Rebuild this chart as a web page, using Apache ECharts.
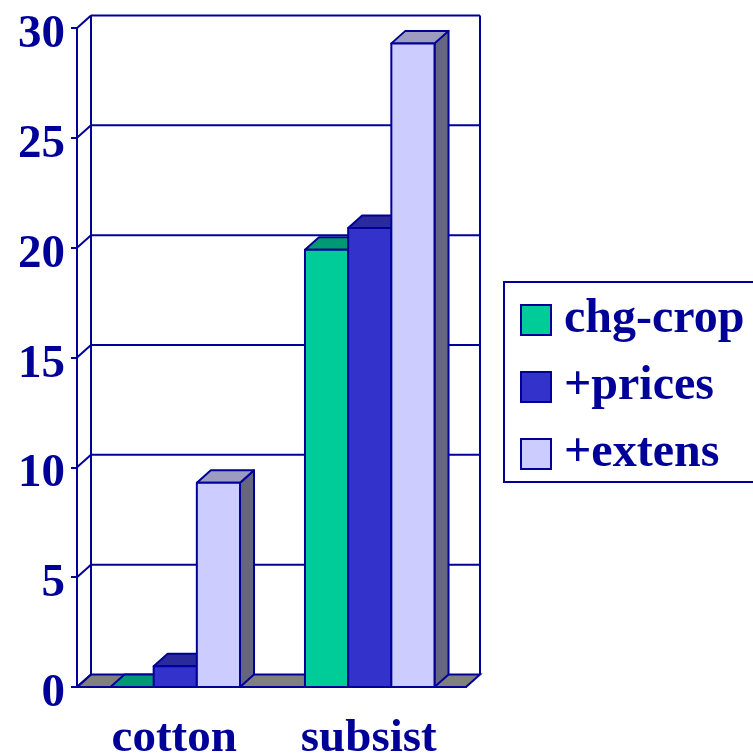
<!DOCTYPE html>
<html>
<head>
<meta charset="utf-8">
<script src="https://cdn.jsdelivr.net/npm/echarts@6/dist/echarts.min.js"></script>
<style>
  html, body { margin: 0; padding: 0; background: #fff; }
  #chart { width: 753px; height: 755px; }
</style>
</head>
<body>
<div id="chart"></div>
<script>
// data
const categories = ['cotton', 'subsist']
const seriesNames = ['chg-crop', '+prices', '+extens']
const chgCrop = [0, 19.9]
const prices = [0.95, 20.9]
const extens = [9.3, 29.3]
const yTicks = [0, 5, 10, 15, 20, 25, 30]

const NAVY = '#000099'
const FONT = "'Liberation Serif', 'Times New Roman', serif"
const DX = 14, DY = -12.5   // depth offset of the 3d look
const BAR_FRAC = 0.222      // share of a category taken by one bar

// front / top / side colours for each series
const faces = [
  ['#00CC99', '#009973', '#006b50'],
  ['#3333CC', '#2a2a9c', '#1f1f70'],
  ['#CCCCFF', '#9c9cc0', '#666680']
]

let myChart = echarts.init(document.getElementById('chart'))

// back wall, floor and grid lines
function renderWall(params, api) {
  const cs = params.coordSys
  const left = cs.x, right = cs.x + cs.width, bottom = cs.y + cs.height
  const line = { stroke: NAVY, lineWidth: 2 }
  const children = []
  children.push({
    type: 'polygon',
    shape: { points: [[left, bottom], [left + DX, bottom + DY], [right + DX, bottom + DY], [right, bottom]] },
    style: { fill: '#808080', stroke: NAVY, lineWidth: 2 }
  })
  yTicks.forEach(v => {
    const y = api.coord([0, v])[1]
    if (v > 0) {
      children.push({ type: 'line', shape: { x1: left + DX, y1: y + DY, x2: right + DX, y2: y + DY }, style: line })
    }
    children.push({ type: 'line', shape: { x1: left, y1: y, x2: left + DX, y2: y + DY }, style: line })
  })
  const yTop = api.coord([0, yTicks[yTicks.length - 1]])[1] + DY
  children.push({ type: 'line', shape: { x1: left + DX, y1: yTop, x2: left + DX, y2: bottom + DY }, style: line })
  children.push({ type: 'line', shape: { x1: right + DX, y1: yTop, x2: right + DX, y2: bottom + DY }, style: line })
  return { type: 'group', children }
}

function makeBarRenderer(k) {
  return function (params, api) {
    const cat = api.value(0)
    const base = api.coord([cat, 0])
    const top = api.coord([cat, api.value(1)])
    const bw = api.size([1, 0])[0] * BAR_FRAC
    const x0 = base[0] + (k - 1.5) * bw + 1
    const x1 = x0 + bw
    const yb = base[1], yt = top[1]
    const st = { stroke: NAVY, lineWidth: 2, lineJoin: 'round' }
    return {
      type: 'group',
      children: [
        { type: 'polygon', shape: { points: [[x1, yt], [x1 + DX, yt + DY], [x1 + DX, yb + DY], [x1, yb]] },
          style: Object.assign({ fill: faces[k][2] }, st) },
        { type: 'polygon', shape: { points: [[x0, yt], [x0 + DX, yt + DY], [x1 + DX, yt + DY], [x1, yt]] },
          style: Object.assign({ fill: faces[k][1] }, st) },
        { type: 'rect', shape: { x: x0, y: yt, width: bw, height: yb - yt },
          style: Object.assign({ fill: faces[k][0] }, st) }
      ]
    }
  }
}

const values = [chgCrop, prices, extens]
const barSeries = values.map((vals, k) => ({
  type: 'custom',
  name: seriesNames[k],
  renderItem: makeBarRenderer(k),
  encode: { x: 0, y: 1 },
  itemStyle: { color: faces[k][0], borderColor: NAVY, borderWidth: 2 },
  data: vals.map((v, i) => [i, v])
}))

const option = {
  animation: false,
  grid: { left: 77, top: 28, right: 287, bottom: 68, outerBoundsMode: 'none', containLabel: false },
  legend: {
    orient: 'vertical',
    left: 504,
    top: 282,
    padding: [14, 30, 4, 16],
    itemWidth: 30,
    itemHeight: 30,
    itemGap: 19,
    icon: 'rect',
    borderColor: NAVY,
    borderWidth: 2,
    data: seriesNames,
    textStyle: {
      fontFamily: FONT, fontWeight: 'bold', fontSize: 48, color: NAVY,
      lineHeight: 44, padding: [0, 0, 0, 8]
    }
  },
  xAxis: {
    type: 'category',
    data: categories,
    axisLine: { lineStyle: { color: NAVY, width: 2 } },
    axisTick: { length: 7, lineStyle: { color: NAVY, width: 2 } },
    axisLabel: { margin: 28, fontFamily: FONT, fontWeight: 'bold', fontSize: 47, color: NAVY }
  },
  yAxis: {
    type: 'value',
    min: 0,
    max: 30,
    interval: 5,
    axisLine: { show: true, lineStyle: { color: NAVY, width: 2 } },
    axisTick: { show: true, length: 6, lineStyle: { color: NAVY, width: 2 } },
    splitLine: { show: false },
    axisLabel: {
      margin: 12, verticalAlign: 'top', lineHeight: 14,
      fontFamily: FONT, fontWeight: 'bold', fontSize: 47, color: NAVY
    }
  },
  series: [{
    type: 'custom',
    name: 'wall',
    renderItem: renderWall,
    encode: { x: 0, y: 1 },
    silent: true,
    z: 1,
    data: [[0, 0]]
  }].concat(barSeries)
}

myChart.setOption(option)
window.onresize = function () {
  myChart.resize()
}
</script>
</body>
</html>
